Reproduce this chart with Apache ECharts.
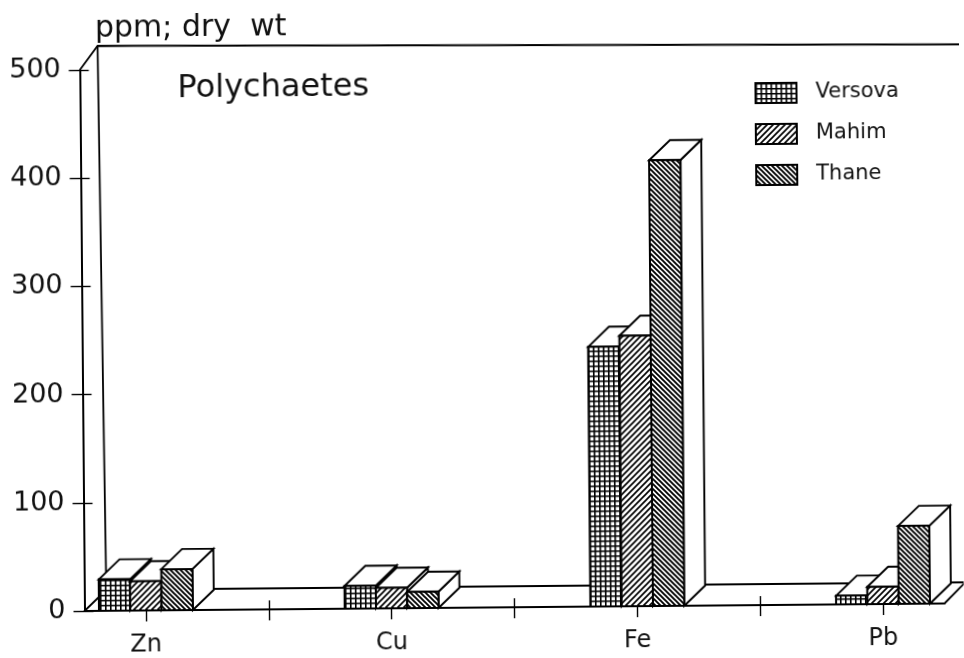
<!DOCTYPE html>
<html><head><meta charset="utf-8">
<style>html,body{margin:0;padding:0;background:#fff;overflow:hidden}
#c{width:964px;height:658px;transform-origin:84.5px 611px;transform:rotate(-0.5deg)}</style>
<script src="https://cdn.jsdelivr.net/npm/echarts@6/dist/echarts.min.js"></script>
</head><body><div id="c"></div>
<script>
const categories = ['Zn','Cu','Fe','Pb'];
const versova = [29, 21, 240, 8];
const mahim   = [27, 19, 250, 16];
const thane   = [38, 15, 412, 72];
const yTicks  = [0,100,200,300,400,500];

// axis slots: category, gap, category ...
const axisSlots = [];
categories.forEach((c,i)=>{ if(i) axisSlots.push(''); axisSlots.push(c); });

function tile(w,h,draw){
  const k=document.createElement('canvas'); k.width=w; k.height=h;
  const g=k.getContext('2d'); g.fillStyle='#fff'; g.fillRect(0,0,w,h);
  g.strokeStyle='#000'; draw(g,w,h); return {image:k,repeat:'repeat'};
}
const patGrid = tile(5,5,(g)=>{ g.lineWidth=1.6; g.beginPath(); g.moveTo(0,.8);g.lineTo(5,.8);g.moveTo(.8,0);g.lineTo(.8,5);g.stroke(); });
const patUp = tile(6,6,(g)=>{ g.lineWidth=1.7; g.beginPath(); g.moveTo(-1,7);g.lineTo(7,-1);g.moveTo(-1,1);g.lineTo(1,-1);g.moveTo(5,7);g.lineTo(7,5);g.stroke(); });
const patDown = tile(5,5,(g)=>{ g.lineWidth=1.9; g.beginPath(); g.moveTo(-1,-1);g.lineTo(6,6);g.moveTo(-1,4);g.lineTo(1,6);g.moveTo(4,-1);g.lineTo(6,1);g.stroke(); });

const DX=21, DY=-20, BAR=31.3;
const ink={fill:'#fff',stroke:'#000',lineWidth:1.9};
function bar3d(seriesIdx,pat){
  return function(params,api){
    const base=api.coord([api.value(0),0]);
    const top=api.coord([api.value(0),api.value(1)]);
    const x0=base[0]-1.5*BAR+seriesIdx*BAR, x1=x0+BAR, yb=base[1], yt=top[1];
    return {type:'group',children:[
      {type:'polygon',shape:{points:[[x1,yb],[x1+DX,yb+DY],[x1+DX,yt+DY],[x1,yt]]},style:ink},
      {type:'polygon',shape:{points:[[x0,yt],[x0+DX,yt+DY],[x1+DX,yt+DY],[x1,yt]]},style:ink},
      {type:'rect',shape:{x:x0,y:yt,width:BAR,height:yb-yt},style:{fill:pat,stroke:'#000',lineWidth:2}}
    ]};
  };
}
function frame(params,api){
  const tl=api.coord([0,500]), bl=api.coord([0,0]);
  const half=api.size([1,0])[0]/2;
  const xl=tl[0]-half, xr=api.coord([axisSlots.length-1,0])[0]+half, yt=tl[1], yb=bl[1];
  return {type:'group',children:[
    {type:'polyline',shape:{points:[[xl,yt],[xl+18,yt-24],[xr+21,yt-18],[xr+21,yb-21]]},style:{fill:null,stroke:'#000',lineWidth:1.8}},
    {type:'polyline',shape:{points:[[xl+18,yt-24],[xl+22,yb-21],[xr+21,yb-21]]},style:{fill:null,stroke:'#000',lineWidth:1.8}},
    {type:'line',shape:{x1:xl,y1:yb,x2:xl+22,y2:yb-21},style:{stroke:'#000',lineWidth:1.8}},
    {type:'line',shape:{x1:xr,y1:yb,x2:xr+21,y2:yb-21},style:{stroke:'#000',lineWidth:1.8}}
  ]};
}
const toData = a => a.map((v,i)=>[i*2,v]);
const font='"DejaVu Sans", sans-serif';
const grid={left:84.5,width:860,top:70,height:541,outerBoundsMode:'none'};
const axLine={show:true,lineStyle:{color:'#000',width:2}};
const chart=echarts.init(document.getElementById('c'),null,{renderer:'canvas'});
chart.setOption({
  animation:false, backgroundColor:'#fff', grid,
  title:[
    {text:'ppm; dry  wt',left:100,top:14,padding:0,textStyle:{fontFamily:font,fontSize:30,fontWeight:'normal',color:'#111'}},
    {text:'Polychaetes',left:182,top:74,padding:0,textStyle:{fontFamily:font,fontSize:32,fontWeight:'normal',color:'#111'}}
  ],
  legend:{orient:'vertical',left:759,top:88,itemWidth:41,itemHeight:20,itemGap:19,padding:0,selectedMode:false,
    textStyle:{fontFamily:font,fontSize:21,color:'#111',padding:[0,0,0,14]},
    data:[
      {name:'Versova',icon:'rect',itemStyle:{color:patGrid,borderColor:'#000',borderWidth:2}},
      {name:'Mahim',icon:'rect',itemStyle:{color:patUp,borderColor:'#000',borderWidth:2}},
      {name:'Thane',icon:'rect',itemStyle:{color:patDown,borderColor:'#000',borderWidth:2}}
    ]},
  xAxis:[
    {type:'category',data:axisSlots,boundaryGap:true,axisLine:axLine,
     axisTick:{show:true,alignWithLabel:true,length:11,interval:0,lineStyle:{color:'#000',width:1.4}},
     axisLabel:{interval:0,margin:23,fontFamily:font,fontSize:24,color:'#111'}},
    {type:'category',data:axisSlots,position:'bottom',axisLine:{show:false},
     axisTick:{show:true,inside:true,alignWithLabel:true,length:9,interval:0,lineStyle:{color:'#000',width:1.4}},
     axisLabel:{show:false}}
  ],
  yAxis:[
    {type:'value',min:0,max:500,interval:100,axisLine:axLine,
     axisTick:{show:true,length:11,lineStyle:{color:'#000',width:1.4}},splitLine:{show:false},
     axisLabel:{margin:19,fontFamily:font,fontSize:27,color:'#111',
       formatter:v=>yTicks.includes(v)?String(v):''}},
    {type:'value',min:0,max:500,interval:100,position:'left',axisLine:{show:false},
     axisTick:{show:true,inside:true,length:9,lineStyle:{color:'#000',width:1.4}},
     splitLine:{show:false},axisLabel:{show:false}}
  ],
  series:[
    {type:'custom',name:'frame',silent:true,renderItem:frame,data:[[0,0]],z:1},
    {type:'custom',name:'Versova',renderItem:bar3d(0,patGrid),data:toData(versova),itemStyle:{color:patGrid},z:2},
    {type:'custom',name:'Mahim',renderItem:bar3d(1,patUp),data:toData(mahim),itemStyle:{color:patUp},z:3},
    {type:'custom',name:'Thane',renderItem:bar3d(2,patDown),data:toData(thane),itemStyle:{color:patDown},z:4}
  ]
});
</script></body></html>
